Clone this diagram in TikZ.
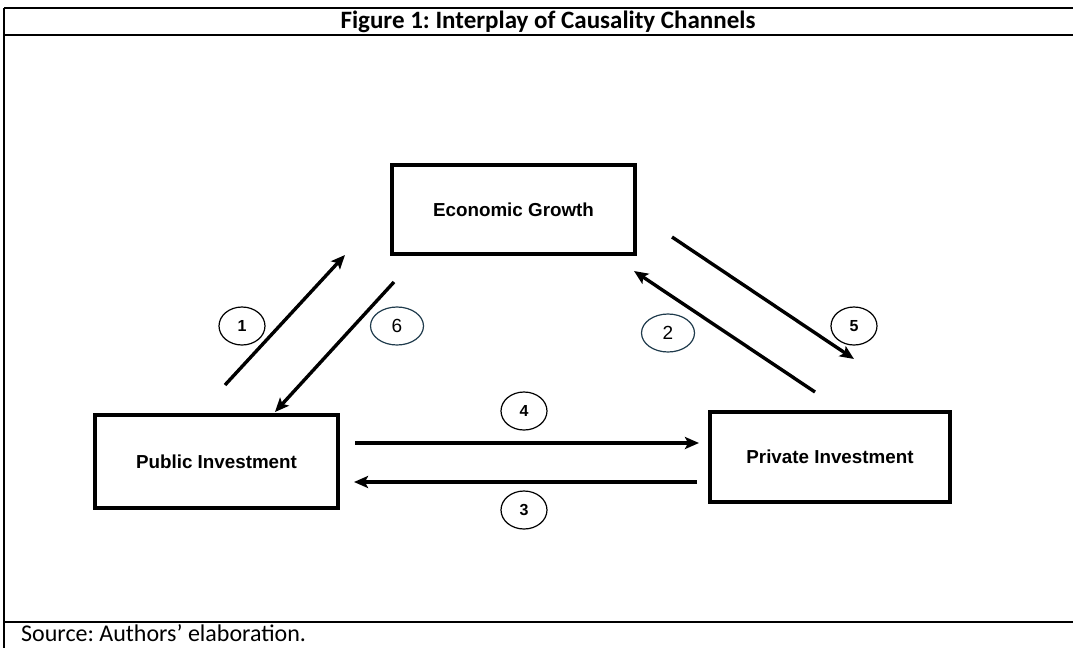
\documentclass[tikz,border=0pt]{standalone}
\usepackage{fontspec}
\setmainfont{Carlito}
\newfontfamily\arialfont{Liberation Sans}
\usetikzlibrary{arrows.meta,shapes.geometric}
\definecolor{numteal}{HTML}{1F3B4C}
\begin{document}
\begin{tikzpicture}[x=1pt,y=-1pt,
  box/.style={draw,line width=4pt,rectangle,inner sep=0pt,
    font=\arialfont\bfseries\fontsize{18.8}{22}\selectfont},
  num/.style={draw,line width=1.2pt,ellipse,inner sep=0pt,
    minimum width=46pt,minimum height=38pt,
    font=\arialfont\bfseries\fontsize{16}{18}\selectfont},
  numteal/.style={num,draw=numteal,minimum width=53pt,minimum height=38pt,
    font=\arialfont\fontsize{19}{22}\selectfont},
  channel/.style={line width=3.4pt,-{Stealth[length=14pt,width=12pt,inset=3pt]}},
  frame/.style={line width=2pt}]
\useasboundingbox (0,0) rectangle (1073,648);
% table frame
\coordinate (tl) at (4,8);
\coordinate (tr) at (1073,8);
\coordinate (ml) at (4,35);
\coordinate (mr) at (1073,35);
\coordinate (bl) at (4,622);
\coordinate (br) at (1073,622);
\coordinate (bb) at (4,648);
\draw[frame] (tl) -- (tr) (ml) -- (mr) (bl) -- (br) (tl) -- (bb);
\node[font=\bfseries\fontsize{25}{30}\selectfont] (title) at (548,22)
  {Figure 1:~Interplay of Causality Channels};
\node[anchor=base west,inner sep=0pt,font=\fontsize{24}{28}\selectfont] (source)
  at (21,641) {Source:~Authors’ elaboration.};
% the three variables
\node[box,minimum width=243pt,minimum height=89pt] (growth) at (513.5,209.5) {Economic Growth};
\node[box,minimum width=243pt,minimum height=93pt] (public) at (216.5,461.5) {Public Investment};
\node[box,minimum width=240pt,minimum height=90pt] (private) at (830,457) {Private Investment};
% channel end points
\coordinate (c1s) at (225,385);
\coordinate (c1e) at (345,255);
\coordinate (c6s) at (394,282);
\coordinate (c6e) at (275,412);
\coordinate (c5s) at (672,237);
\coordinate (c5e) at (854,359);
\coordinate (c2s) at (815,392);
\coordinate (c2e) at (634,271);
\coordinate (c4s) at (355,443);
\coordinate (c4e) at (699,443);
\coordinate (c3s) at (697,482);
\coordinate (c3e) at (354,482);
\draw[channel] (c1s) -- (c1e);
\draw[channel] (c6s) -- (c6e);
\draw[channel] (c5s) -- (c5e);
\draw[channel] (c2s) -- (c2e);
\draw[channel] (c4s) -- (c4e);
\draw[channel] (c3s) -- (c3e);
% channel numbers
\node[num] (n1) at (242,326) {1};
\node[numteal] (n6) at (397,326) {6};
\node[numteal] (n2) at (668,333) {2};
\node[num] (n5) at (854,326) {5};
\node[num] (n4) at (524,411) {4};
\node[num] (n3) at (524,510) {3};
\end{tikzpicture}
\end{document}
